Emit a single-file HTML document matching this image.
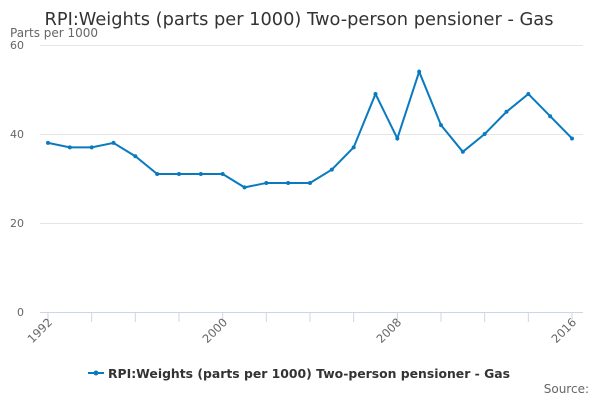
<!DOCTYPE html><html><head><style>body{margin:0;background:#fff}svg{display:block}text{font-family:"DejaVu Sans","Liberation Sans",sans-serif}</style></head><body>
<svg width="600" height="400" xmlns="http://www.w3.org/2000/svg">
<text x="299" y="25" text-anchor="middle" font-size="17.8" fill="#333">RPI:Weights (parts per 1000) Two-person pensioner - Gas</text>
<text x="10" y="37" font-size="12" fill="#666">Parts per 1000</text>
<g stroke="#e6e6e6"><line x1="40" x2="583" y1="45.5" y2="45.5"/><line x1="40" x2="583" y1="134.5" y2="134.5"/><line x1="40" x2="583" y1="223.5" y2="223.5"/></g>
<line x1="40" x2="583" y1="312.5" y2="312.5" stroke="#ccd6eb"/>
<g font-size="11" fill="#666" text-anchor="end"><text x="24" y="49">60</text><text x="24" y="138">40</text><text x="24" y="227">20</text><text x="24" y="316">0</text></g>
<g stroke="#ccd6eb">
<line x1="48" x2="48" y1="312" y2="322"/><line x1="91.67" x2="91.67" y1="312" y2="322"/><line x1="135.33" x2="135.33" y1="312" y2="322"/><line x1="179" x2="179" y1="312" y2="322"/><line x1="222.67" x2="222.67" y1="312" y2="322"/><line x1="266.33" x2="266.33" y1="312" y2="322"/><line x1="310" x2="310" y1="312" y2="322"/><line x1="353.67" x2="353.67" y1="312" y2="322"/><line x1="397.33" x2="397.33" y1="312" y2="322"/><line x1="441" x2="441" y1="312" y2="322"/><line x1="484.67" x2="484.67" y1="312" y2="322"/><line x1="528.33" x2="528.33" y1="312" y2="322"/><line x1="572" x2="572" y1="312" y2="322"/>
</g>
<g font-size="11.5" fill="#666" text-anchor="end">
<text transform="translate(53,323) rotate(-45)">1992</text>
<text transform="translate(228,323) rotate(-45)">2000</text>
<text transform="translate(402,323) rotate(-45)">2008</text>
<text transform="translate(577,323) rotate(-45)">2016</text></g>
<polyline fill="none" stroke="#0a7abf" stroke-width="2" points="48,142.9 69.83,147.35 91.67,147.35 113.5,142.9 135.33,156.25 157.17,174.05 179,174.05 200.83,174.05 222.67,174.05 244.5,187.4 266.33,182.95 288.17,182.95 310,182.95 331.83,169.6 353.67,147.35 375.5,93.95 397.33,138.45 419.17,71.7 441,125.1 462.83,151.8 484.67,134 506.5,111.75 528.33,93.95 550.17,116.2 572,138.45"/>
<g fill="#0a7abf">
<circle cx="48" cy="142.9" r="2"/><circle cx="69.83" cy="147.35" r="2"/><circle cx="91.67" cy="147.35" r="2"/><circle cx="113.5" cy="142.9" r="2"/><circle cx="135.33" cy="156.25" r="2"/><circle cx="157.17" cy="174.05" r="2"/><circle cx="179" cy="174.05" r="2"/><circle cx="200.83" cy="174.05" r="2"/><circle cx="222.67" cy="174.05" r="2"/><circle cx="244.5" cy="187.4" r="2"/><circle cx="266.33" cy="182.95" r="2"/><circle cx="288.17" cy="182.95" r="2"/><circle cx="310" cy="182.95" r="2"/><circle cx="331.83" cy="169.6" r="2"/><circle cx="353.67" cy="147.35" r="2"/><circle cx="375.5" cy="93.95" r="2"/><circle cx="397.33" cy="138.45" r="2"/><circle cx="419.17" cy="71.7" r="2"/><circle cx="441" cy="125.1" r="2"/><circle cx="462.83" cy="151.8" r="2"/><circle cx="484.67" cy="134" r="2"/><circle cx="506.5" cy="111.75" r="2"/><circle cx="528.33" cy="93.95" r="2"/><circle cx="550.17" cy="116.2" r="2"/><circle cx="572" cy="138.45" r="2"/>
</g>
<line x1="88" x2="104" y1="373" y2="373" stroke="#0a7abf" stroke-width="2"/><circle cx="96" cy="373" r="2.5" fill="#0a7abf"/>
<text x="108" y="378" font-size="12.4" font-weight="bold" fill="#333">RPI:Weights (parts per 1000) Two-person pensioner - Gas</text>
<text x="589" y="393" font-size="12" fill="#666" text-anchor="end">Source:</text>
</svg></body></html>
